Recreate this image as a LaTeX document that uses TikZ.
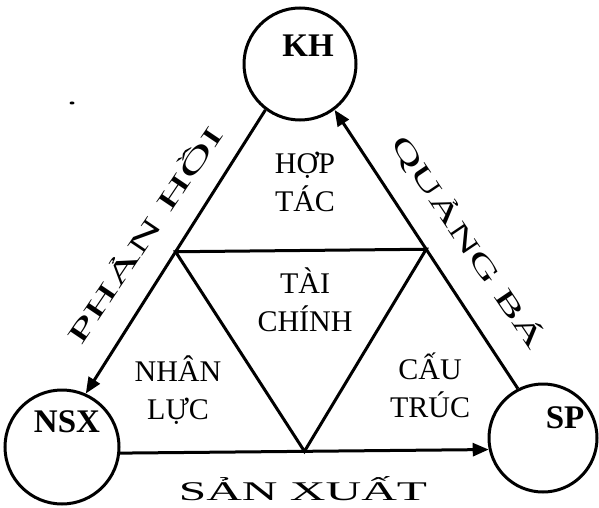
\documentclass[tikz,border=0pt]{standalone}
\usepackage{fontspec}
\setmainfont{Liberation Serif}
\usetikzlibrary{arrows.meta,calc}
\begin{document}
\begin{tikzpicture}[x=1pt,y=-1pt,
  hub/.style={circle,draw,line width=3pt,inner sep=0pt},
  hubname/.style={font=\fontsize{33}{33}\selectfont\bfseries,inner sep=0pt},
  edge/.style={line width=3pt},
  arr/.style={edge,-{Triangle[length=16pt,width=13pt]}},
  field/.style={font=\fontsize{30}{38}\selectfont,align=center,inner sep=0pt},
  flow/.style={font=\fontsize{27}{27}\selectfont,inner sep=0pt}]
\useasboundingbox (0,0) rectangle (599,508);

% the three partners
\node[hub,minimum size=112pt] (kh)  at (300,64)  {};
\node[hub,minimum size=114pt] (nsx) at (62,447)  {};
\node[hub,minimum size=108pt] (sp)  at (543,438) {};
\node[hubname] (khname)  at (308,46)  {KH};
\node[hubname] (nsxname) at (67,422)  {NSX};
\node[hubname] (spname)  at (565,418) {SP};

% outer cycle of flows
\draw[arr] (kh.233) -- (nsx.66);
\draw[arr] (sp.117) -- (kh.307);
\draw[arr] (nsx.-6) -- (sp.192);

% inner triangle joining the side midpoints
\coordinate (mleft)   at ($(kh.233)!0.5!(nsx.66)$);
\coordinate (mright)  at ($(sp.117)!0.5!(kh.307)$);
\coordinate (mbottom) at ($(nsx.-6)!0.5!(sp.192)$);
\draw[edge,line join=miter] (mleft) -- (mright) -- (mbottom) -- cycle;

% fields inside the triangle
\node[field] (hoptac)   at (305,182) {HỢP\\TÁC};
\node[field] (taichinh) at (305,300) {TÀI\\CHÍNH};
\node[field] (nhanluc)  at (178,390) {NHÂN\\LỰC};
\node[field] (cautruc)  at (430,385) {CẤU\\TRÚC};

% flow names along the sides
\node[flow] (sanxuat) at (303,489) {\scalebox{1.83}[1]{SẢN XUẤT}};
\node[flow,rotate=56]  (phanhoi) at (143,234) {\scalebox{2.0}[1]{PHẢN HỒI}};
\node[flow,rotate=-56] (quangba) at (468,242) {\scalebox{1.77}[1]{QUẢNG BÁ}};

% small ink speck
\fill (72,103) ellipse (2.5 and 1.5);
\end{tikzpicture}
\end{document}
